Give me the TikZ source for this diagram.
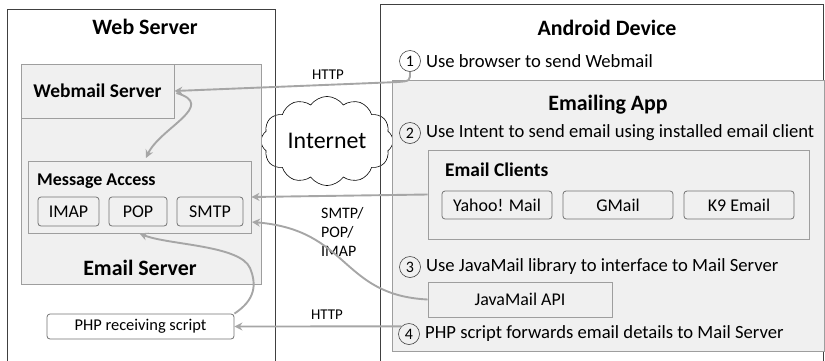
\documentclass[tikz,border=0pt]{standalone}
\usepackage{fontspec}
\setmainfont{Carlito}
\usetikzlibrary{shapes.symbols,arrows.meta}
\begin{document}
\begin{tikzpicture}[x=1bp,y=-1bp,
    outer/.style={draw=black!75,line width=0.8pt,inner sep=0pt},
    panel/.style={draw=black!38,fill=black!6,line width=0.9pt,inner sep=0pt},
    proto/.style={draw=black!55,fill=black!6,rounded corners=3bp,line width=0.8pt,inner sep=0pt,
      font=\fontsize{18}{21}\selectfont},
    flow/.style={draw=black!35,line width=1.9pt,-{Stealth[length=8bp,width=8bp]}},
    numc/.style={circle,draw=black!75,line width=0.6pt,minimum size=21bp,inner sep=0pt,
      font=\fontsize{16}{19}\selectfont},
    stepline/.style={anchor=west,inner sep=0pt,font=\fontsize{18.7}{22}\selectfont},
    head/.style={font=\bfseries\fontsize{22}{26}\selectfont},
    subhead/.style={font=\bfseries\fontsize{19.5}{23}\selectfont}]
  \useasboundingbox (0,0) rectangle (825,360);

  \node[cloud,cloud puffs=12,cloud puff arc=110,aspect=1.6,draw=black,fill=white,line width=0.6pt,
    minimum width=132bp,minimum height=84bp,font=\fontsize{24}{28}\selectfont] (net) at (327,141) {Internet};

  \node[outer,minimum width=268bp,minimum height=356bp] (websrv) at (141,187) {};
  \node[outer,minimum width=443bp,minimum height=360bp] (android) at (601.5,184) {};
  \node[head] at (145,27) {Web Server};
  \node[head] at (607,28) {Android Device};

  % web server side
  \node[panel,minimum width=240bp,minimum height=220bp] (emailsrv) at (141,174) {};
  \node[panel,subhead,minimum width=153bp,minimum height=54bp] (webmail) at (97.5,91) {Webmail Server};
  \node[panel,minimum width=223bp,minimum height=72bp] (msgacc) at (139.5,197) {};
  \node[anchor=west,inner sep=0pt,font=\bfseries\fontsize{18}{21}\selectfont] at (37,181) {Message Access};
  \node[proto,minimum width=61bp,minimum height=29bp] (imap) at (68.5,211.5) {IMAP};
  \node[proto,minimum width=58bp,minimum height=29bp] (pop) at (138,211.5) {POP};
  \node[proto,minimum width=66bp,minimum height=29bp] (smtp) at (210,211.5) {SMTP};
  \node[head] at (140,268) {Email Server};
  \node[proto,fill=white,minimum width=187bp,minimum height=25bp,font=\fontsize{16.5}{19}\selectfont] (php) at (140.5,326.5) {PHP receiving script};

  % android side
  \node[panel,minimum width=432bp,minimum height=271bp] (app) at (608,215.5) {};
  \node[head] at (608,105) {Emailing App};
  \node[panel,minimum width=381bp,minimum height=89bp] (clients) at (618.5,194.5) {};
  \node[subhead,anchor=west,inner sep=0pt] at (445,170) {Email Clients};
  \node[proto,minimum width=110bp,minimum height=28bp] (yahoo) at (497,205) {Yahoo! Mail};
  \node[proto,minimum width=110bp,minimum height=28bp] (gmail) at (618,205) {GMail};
  \node[proto,minimum width=110bp,minimum height=28bp] (k9) at (739,205) {K9 Email};
  \node[panel,font=\fontsize{18}{21}\selectfont,minimum width=184bp,minimum height=35bp] (javamail) at (520,299.5) {JavaMail API};

  \node[numc] (n1) at (410,61) {1};
  \node[numc] (n2) at (410,133) {2};
  \node[numc] (n3) at (410,267) {3};
  \node[numc] (n4) at (409,334) {4};
  \node[stepline] (step1) at (426,61) {Use browser to send Webmail};
  \node[stepline] (step2) at (426,133) {Use Intent to send email using installed email client};
  \node[stepline] (step3) at (426,267) {Use JavaMail library to interface to Mail Server};
  \node[stepline] (step4) at (425,334) {PHP script forwards email details to Mail Server};

  \node[font=\fontsize{15}{18}\selectfont] (http1) at (328,75) {HTTP};
  \node[font=\fontsize{15}{18}\selectfont] (http2) at (327,315) {HTTP};
  \node[anchor=west,inner sep=0pt,align=left,font=\fontsize{16}{19.5}\selectfont] (protos) at (321,232) {SMTP/\\POP/\\IMAP};

  \coordinate (smtpin) at (252,222);

  \draw[flow] (n1.south) .. controls (410,81) .. (398,82) -- (webmail.east);
  \draw[flow] ([xshift=2bp,yshift=-2bp]webmail.east) .. controls (218,105) and (160,128) .. (146,158);
  \draw[flow] (clients.west) -- (msgacc.east);
  \draw[flow] (javamail.west) .. controls (340,295) and (350,230) .. (smtpin);
  \draw[flow] (n4.north west) -- (php.east);
  \draw[flow] (php.north east) .. controls (255,300) and (257,285) .. (250,268)
    .. controls (240,245) and (168,245) .. (msgacc.south);
\end{tikzpicture}
\end{document}
